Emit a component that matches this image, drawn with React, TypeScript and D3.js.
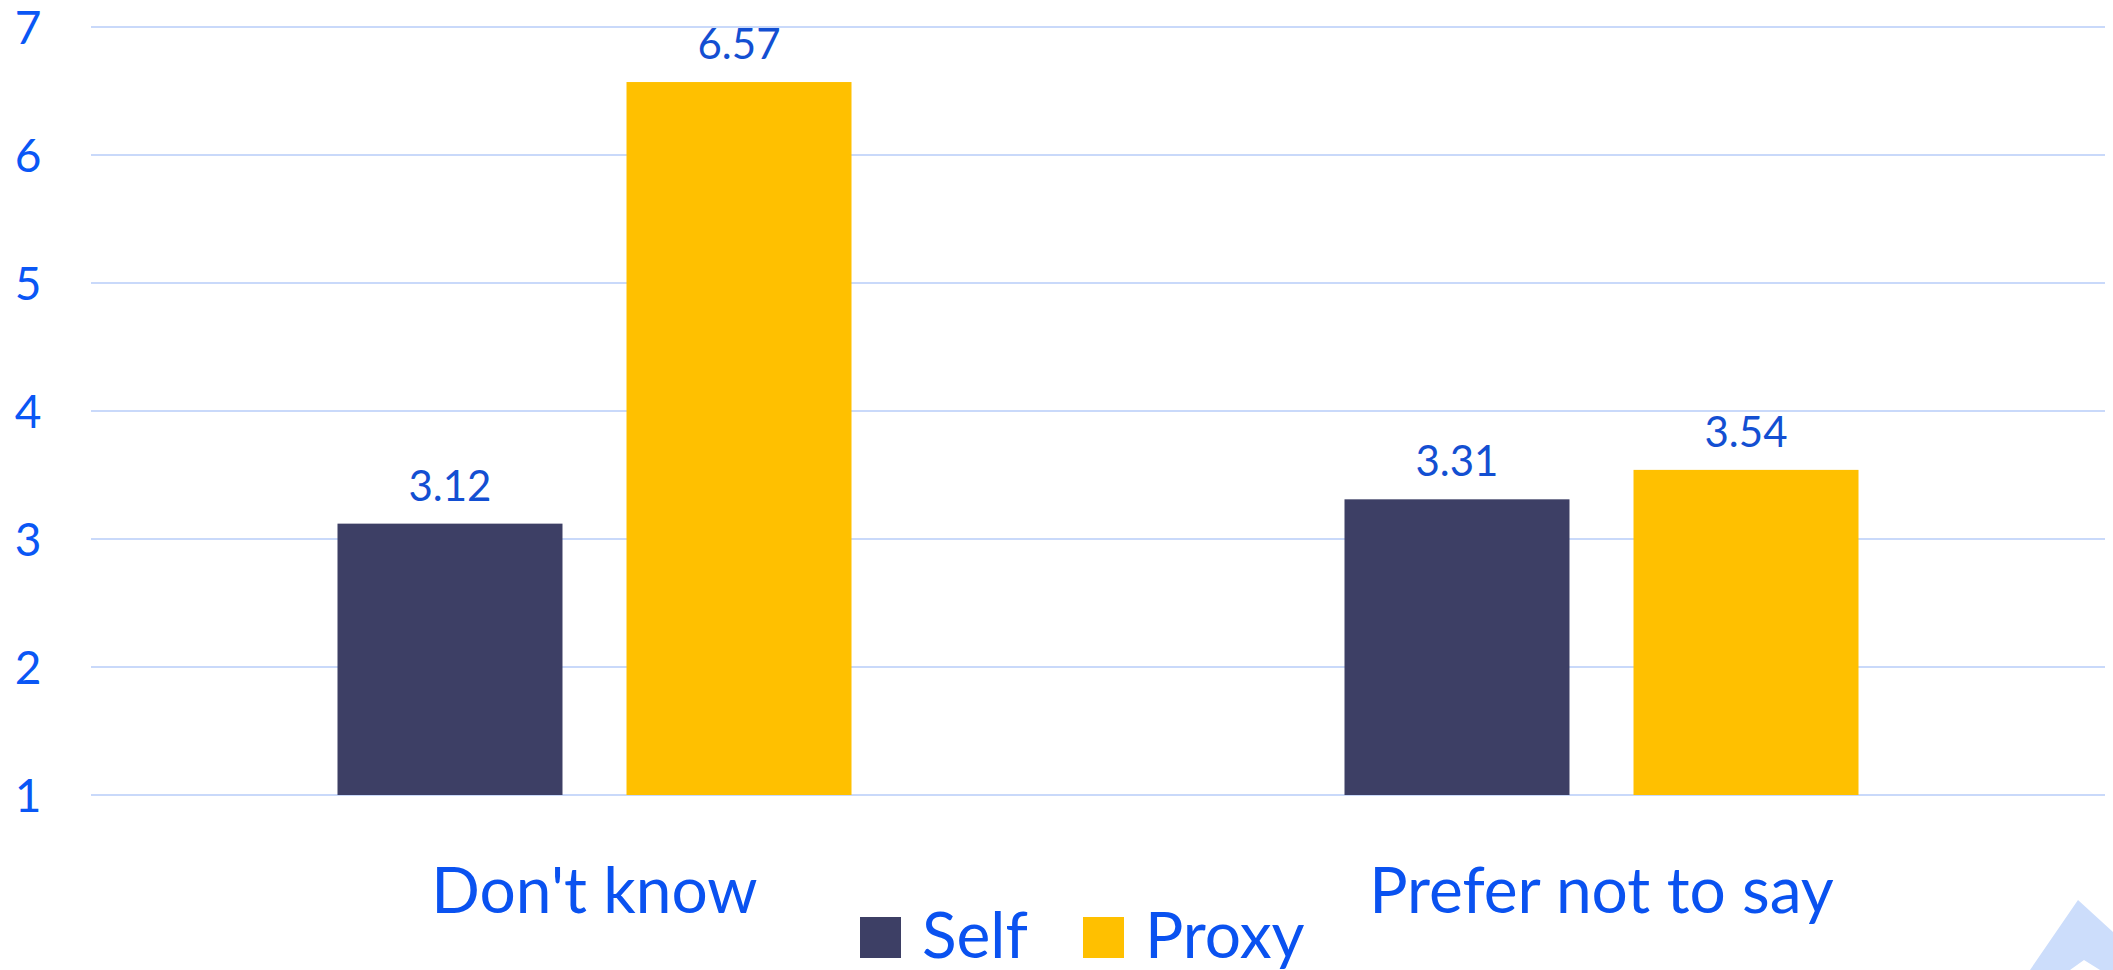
import React from "react";
import * as d3 from "d3";

const categories = ["Don't know", "Prefer not to say"];
const seriesNames = ["Self", "Proxy"];
const selfValues = [3.12, 3.31];
const proxyValues = [6.57, 3.54];
const yTicks = [1, 2, 3, 4, 5, 6, 7];
const seriesColors = ["#3D3F65", "#FFC000"];

const W = 2113;
const H = 970;
const FONT = "Lato, 'Open Sans', sans-serif";

export default function App() {
  const y = d3.scaleLinear().domain([1, 7]).range([795, 27]);
  const x0 = d3.scaleBand<string>().domain(categories).range([91, 2105]).padding(0);
  const bw = x0.bandwidth();
  const x1 = d3
    .scaleBand<string>()
    .domain(seriesNames)
    .range([bw / 2 - 257, bw / 2 + 257])
    .paddingInner(0.2215)
    .paddingOuter(0);
  const values = [selfValues, proxyValues];

  const legendItems = [
    { name: seriesNames[0], color: seriesColors[0], x: 860 },
    { name: seriesNames[1], color: seriesColors[1], x: 1083 },
  ];

  return (
    <svg
      width={W}
      height={H}
      style={{ position: "absolute", left: 0, top: 0, display: "block", background: "#fff" }}
    >
      {yTicks.map((t) => (
        <g key={t}>
          <line x1={91} x2={2105} y1={y(t)} y2={y(t)} stroke="#C9D9FA" strokeWidth={2} />
          <text
            x={28}
            y={y(t)}
            dy="0.36em"
            textAnchor="middle"
            fontFamily={FONT}
            fontSize={46}
            fill="#0A57F5"
          >
            {t}
          </text>
        </g>
      ))}
      {categories.map((c, ci) => (
        <g key={c} transform={`translate(${x0(c)},0)`}>
          {seriesNames.map((s, si) => {
            const v = values[si][ci];
            const bx = x1(s)!;
            return (
              <g key={s}>
                <rect
                  x={bx}
                  y={y(v)}
                  width={x1.bandwidth()}
                  height={y(1) - y(v)}
                  fill={seriesColors[si]}
                />
                <text
                  x={bx + x1.bandwidth() / 2}
                  y={y(v) - 23}
                  textAnchor="middle"
                  fontFamily={FONT}
                  fontSize={42}
                  fill="#134FD2"
                >
                  {v.toFixed(2)}
                </text>
              </g>
            );
          })}
          <text
            x={bw / 2}
            y={913}
            textAnchor="middle"
            fontFamily={FONT}
            fontSize={64}
            fill="#0A52F0"
          >
            {c}
          </text>
        </g>
      ))}
      {legendItems.map((it) => (
        <g key={it.name}>
          <rect x={it.x} y={917} width={41} height={41} fill={it.color} />
          <text x={it.x + 62} y={958} fontFamily={FONT} fontSize={64} fill="#0A52F0">
            {it.name}
          </text>
        </g>
      ))}
      <path
        d="M2078,900 L2113,932 L2113,970 L2100,970 L2084,960 L2070,970 L2030,970 Z"
        fill="#CCDDFB"
      />
    </svg>
  );
}
